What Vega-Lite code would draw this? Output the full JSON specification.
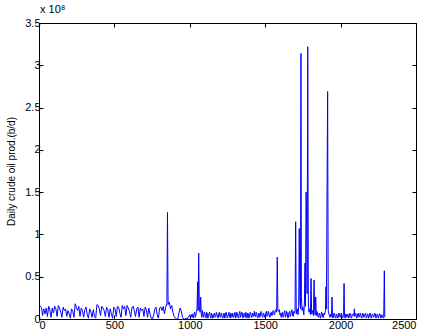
{
  "$schema": "https://vega.github.io/schema/vega-lite/v6.json",
  "autosize": "none",
  "width": 377,
  "height": 296,
  "padding": {"left": 39, "top": 23, "right": 15, "bottom": 17},
  "background": "white",
  "title": {"text": "x 10⁸", "anchor": "start", "frame": "group", "fontSize": 11, "fontWeight": "normal", "font": "Liberation Sans", "color": "#000", "offset": 2, "dx": 1},
  "config": {
    "view": {"stroke": "#000", "strokeWidth": 1},
    "axis": {"domainColor": "#000", "tickColor": "#000", "labelColor": "#000", "titleColor": "#000", "labelFont": "Liberation Sans", "titleFont": "Liberation Sans", "labelFontSize": 11, "titleFontSize": 10, "titleFontWeight": "normal", "grid": false, "tickSize": -4, "domainWidth": 1}
  },
  "data": {"values": [
    {"day":0,"prod":0.15},{"day":4,"prod":0.16},{"day":8,"prod":0.15},{"day":16,"prod":0.14},{"day":20,"prod":0.09},{"day":24,"prod":0.04},{"day":28,"prod":0.1},{"day":32,"prod":0.12},{"day":40,"prod":0.06},{"day":44,"prod":0.1},{"day":48,"prod":0.13},{"day":56,"prod":0.03},{"day":64,"prod":0.15},{"day":72,"prod":0.11},{"day":76,"prod":0.06},{"day":80,"prod":0.02},{"day":88,"prod":0.13},{"day":96,"prod":0.07},{"day":104,"prod":0.15},{"day":112,"prod":0.12},{"day":120,"prod":0.03},{"day":128,"prod":0.16},{"day":136,"prod":0.13},{"day":144,"prod":0.08},{"day":152,"prod":0.02},{"day":160,"prod":0.14},{"day":168,"prod":0.1},{"day":176,"prod":0.12},{"day":184,"prod":0.03},{"day":192,"prod":0.1},{"day":200,"prod":0.06},{"day":208,"prod":0.01},{"day":216,"prod":0.12},{"day":224,"prod":0.09},{"day":232,"prod":0.02},{"day":240,"prod":0.18},{"day":248,"prod":0.14},{"day":256,"prod":0.1},{"day":264,"prod":0.15},{"day":272,"prod":0.03},{"day":280,"prod":0.13},{"day":288,"prod":0.1},{"day":296,"prod":0.02},{"day":304,"prod":0.11},{"day":312,"prod":0.14},{"day":320,"prod":0.05},{"day":328,"prod":0.01},{"day":336,"prod":0.12},{"day":344,"prod":0.08},{"day":352,"prod":0.02},{"day":360,"prod":0.11},{"day":368,"prod":0.03},{"day":376,"prod":0.01},{"day":384,"prod":0.17},{"day":392,"prod":0.16},{"day":400,"prod":0.12},{"day":408,"prod":0.04},{"day":416,"prod":0.15},{"day":424,"prod":0.13},{"day":432,"prod":0.1},{"day":440,"prod":0.03},{"day":448,"prod":0.14},{"day":456,"prod":0.11},{"day":464,"prod":0.02},{"day":472,"prod":0.12},{"day":480,"prod":0.06},{"day":488,"prod":0.01},{"day":496,"prod":0.14},{"day":504,"prod":0.12},{"day":512,"prod":0.03},{"day":520,"prod":0.15},{"day":528,"prod":0.14},{"day":536,"prod":0.07},{"day":544,"prod":0.02},{"day":552,"prod":0.16},{"day":560,"prod":0.12},{"day":568,"prod":0.15},{"day":576,"prod":0.04},{"day":584,"prod":0.16},{"day":592,"prod":0.13},{"day":600,"prod":0.09},{"day":608,"prod":0.02},{"day":616,"prod":0.13},{"day":624,"prod":0.15},{"day":632,"prod":0.1},{"day":640,"prod":0.03},{"day":648,"prod":0.12},{"day":656,"prod":0.14},{"day":664,"prod":0.02},{"day":672,"prod":0.13},{"day":680,"prod":0.1},{"day":688,"prod":0.12},{"day":696,"prod":0.03},{"day":704,"prod":0.14},{"day":712,"prod":0.11},{"day":720,"prod":0.02},{"day":728,"prod":0.13},{"day":736,"prod":0.06},{"day":744,"prod":0.01},{"day":752,"prod":0.0},{"day":760,"prod":0.04},{"day":768,"prod":0.12},{"day":776,"prod":0.14},{"day":784,"prod":0.05},{"day":792,"prod":0.01},{"day":800,"prod":0.13},{"day":808,"prod":0.14},{"day":816,"prod":0.1},{"day":824,"prod":0.15},{"day":832,"prod":0.06},{"day":840,"prod":0.14},{"day":848,"prod":0.18},{"day":852,"prod":1.26},{"day":856,"prod":0.17},{"day":864,"prod":0.2},{"day":872,"prod":0.12},{"day":880,"prod":0.16},{"day":888,"prod":0.08},{"day":896,"prod":0.03},{"day":904,"prod":0.01},{"day":912,"prod":0.0},{"day":920,"prod":0.0},{"day":928,"prod":0.07},{"day":936,"prod":0.13},{"day":944,"prod":0.09},{"day":952,"prod":0.02},{"day":960,"prod":0.0},{"day":968,"prod":0.0},{"day":976,"prod":0.01},{"day":984,"prod":0.0},{"day":992,"prod":0.03},{"day":1000,"prod":0.05},{"day":1004,"prod":0.01},{"day":1008,"prod":0.02},{"day":1012,"prod":0.05},{"day":1016,"prod":0.06},{"day":1020,"prod":0.02},{"day":1024,"prod":0.01},{"day":1028,"prod":0.06},{"day":1032,"prod":0.08},{"day":1036,"prod":0.02},{"day":1040,"prod":0.04},{"day":1044,"prod":0.09},{"day":1048,"prod":0.12},{"day":1052,"prod":0.44},{"day":1055,"prod":0.1},{"day":1059,"prod":0.78},{"day":1063,"prod":0.15},{"day":1068,"prod":0.08},{"day":1072,"prod":0.26},{"day":1076,"prod":0.06},{"day":1080,"prod":0.02},{"day":1084,"prod":0.1},{"day":1088,"prod":0.04},{"day":1092,"prod":0.02},{"day":1096,"prod":0.08},{"day":1100,"prod":0.07},{"day":1104,"prod":0.03},{"day":1108,"prod":0.01},{"day":1112,"prod":0.08},{"day":1116,"prod":0.06},{"day":1120,"prod":0.01},{"day":1124,"prod":0.03},{"day":1128,"prod":0.07},{"day":1132,"prod":0.08},{"day":1136,"prod":0.03},{"day":1140,"prod":0.01},{"day":1144,"prod":0.07},{"day":1148,"prod":0.05},{"day":1152,"prod":0.01},{"day":1156,"prod":0.02},{"day":1160,"prod":0.06},{"day":1164,"prod":0.07},{"day":1168,"prod":0.02},{"day":1172,"prod":0.03},{"day":1176,"prod":0.08},{"day":1180,"prod":0.06},{"day":1184,"prod":0.02},{"day":1188,"prod":0.01},{"day":1192,"prod":0.06},{"day":1196,"prod":0.08},{"day":1200,"prod":0.03},{"day":1204,"prod":0.02},{"day":1208,"prod":0.07},{"day":1212,"prod":0.05},{"day":1216,"prod":0.02},{"day":1220,"prod":0.01},{"day":1224,"prod":0.06},{"day":1228,"prod":0.07},{"day":1232,"prod":0.01},{"day":1236,"prod":0.03},{"day":1240,"prod":0.08},{"day":1244,"prod":0.06},{"day":1248,"prod":0.01},{"day":1252,"prod":0.02},{"day":1256,"prod":0.06},{"day":1260,"prod":0.08},{"day":1264,"prod":0.03},{"day":1268,"prod":0.01},{"day":1272,"prod":0.07},{"day":1276,"prod":0.05},{"day":1280,"prod":0.02},{"day":1284,"prod":0.07},{"day":1288,"prod":0.04},{"day":1292,"prod":0.02},{"day":1296,"prod":0.06},{"day":1300,"prod":0.08},{"day":1304,"prod":0.01},{"day":1308,"prod":0.03},{"day":1312,"prod":0.08},{"day":1316,"prod":0.06},{"day":1320,"prod":0.02},{"day":1324,"prod":0.01},{"day":1328,"prod":0.07},{"day":1332,"prod":0.09},{"day":1336,"prod":0.02},{"day":1340,"prod":0.04},{"day":1344,"prod":0.08},{"day":1348,"prod":0.07},{"day":1352,"prod":0.01},{"day":1356,"prod":0.02},{"day":1360,"prod":0.07},{"day":1364,"prod":0.05},{"day":1368,"prod":0.02},{"day":1372,"prod":0.08},{"day":1376,"prod":0.03},{"day":1380,"prod":0.01},{"day":1384,"prod":0.07},{"day":1388,"prod":0.06},{"day":1392,"prod":0.01},{"day":1396,"prod":0.03},{"day":1400,"prod":0.08},{"day":1404,"prod":0.07},{"day":1408,"prod":0.02},{"day":1412,"prod":0.02},{"day":1416,"prod":0.07},{"day":1420,"prod":0.05},{"day":1424,"prod":0.03},{"day":1428,"prod":0.09},{"day":1432,"prod":0.04},{"day":1436,"prod":0.03},{"day":1440,"prod":0.08},{"day":1444,"prod":0.06},{"day":1448,"prod":0.02},{"day":1452,"prod":0.01},{"day":1456,"prod":0.06},{"day":1460,"prod":0.07},{"day":1464,"prod":0.02},{"day":1468,"prod":0.04},{"day":1472,"prod":0.09},{"day":1476,"prod":0.08},{"day":1480,"prod":0.03},{"day":1484,"prod":0.02},{"day":1488,"prod":0.07},{"day":1492,"prod":0.06},{"day":1496,"prod":0.02},{"day":1500,"prod":0.03},{"day":1504,"prod":0.07},{"day":1508,"prod":0.09},{"day":1512,"prod":0.03},{"day":1516,"prod":0.04},{"day":1520,"prod":0.09},{"day":1524,"prod":0.07},{"day":1528,"prod":0.03},{"day":1532,"prod":0.02},{"day":1536,"prod":0.07},{"day":1540,"prod":0.08},{"day":1544,"prod":0.04},{"day":1548,"prod":0.05},{"day":1552,"prod":0.1},{"day":1556,"prod":0.09},{"day":1560,"prod":0.05},{"day":1564,"prod":0.07},{"day":1568,"prod":0.11},{"day":1572,"prod":0.1},{"day":1576,"prod":0.08},{"day":1580,"prod":0.73},{"day":1584,"prod":0.1},{"day":1590,"prod":0.09},{"day":1594,"prod":0.11},{"day":1598,"prod":0.05},{"day":1602,"prod":0.07},{"day":1606,"prod":0.02},{"day":1610,"prod":0.06},{"day":1614,"prod":0.08},{"day":1618,"prod":0.02},{"day":1622,"prod":0.03},{"day":1626,"prod":0.08},{"day":1630,"prod":0.1},{"day":1634,"prod":0.02},{"day":1638,"prod":0.04},{"day":1642,"prod":0.09},{"day":1646,"prod":0.07},{"day":1650,"prod":0.01},{"day":1654,"prod":0.02},{"day":1658,"prod":0.08},{"day":1662,"prod":0.09},{"day":1666,"prod":0.03},{"day":1670,"prod":0.05},{"day":1674,"prod":0.1},{"day":1678,"prod":0.11},{"day":1682,"prod":0.04},{"day":1686,"prod":0.03},{"day":1690,"prod":0.09},{"day":1694,"prod":0.07},{"day":1698,"prod":0.1},{"day":1702,"prod":1.15},{"day":1706,"prod":0.06},{"day":1712,"prod":0.12},{"day":1718,"prod":0.05},{"day":1722,"prod":0.15},{"day":1726,"prod":1.07},{"day":1730,"prod":0.2},{"day":1734,"prod":0.12},{"day":1737,"prod":3.14},{"day":1740,"prod":0.25},{"day":1745,"prod":0.1},{"day":1750,"prod":0.14},{"day":1756,"prod":0.05},{"day":1760,"prod":0.2},{"day":1764,"prod":0.66},{"day":1767,"prod":0.15},{"day":1771,"prod":1.5},{"day":1775,"prod":1.19},{"day":1778,"prod":0.3},{"day":1782,"prod":3.22},{"day":1786,"prod":0.2},{"day":1790,"prod":0.08},{"day":1796,"prod":0.12},{"day":1800,"prod":0.05},{"day":1804,"prod":0.48},{"day":1808,"prod":0.06},{"day":1814,"prod":0.1},{"day":1820,"prod":0.04},{"day":1824,"prod":0.46},{"day":1828,"prod":0.12},{"day":1831,"prod":0.05},{"day":1835,"prod":0.26},{"day":1839,"prod":0.04},{"day":1842,"prod":0.09},{"day":1846,"prod":0.08},{"day":1850,"prod":0.03},{"day":1854,"prod":0.02},{"day":1858,"prod":0.07},{"day":1862,"prod":0.06},{"day":1866,"prod":0.01},{"day":1870,"prod":0.03},{"day":1874,"prod":0.08},{"day":1878,"prod":0.07},{"day":1882,"prod":0.02},{"day":1886,"prod":0.02},{"day":1890,"prod":0.07},{"day":1894,"prod":0.05},{"day":1900,"prod":0.1},{"day":1903,"prod":0.38},{"day":1906,"prod":0.12},{"day":1910,"prod":1.49},{"day":1914,"prod":2.69},{"day":1918,"prod":0.1},{"day":1924,"prod":0.05},{"day":1930,"prod":0.02},{"day":1936,"prod":0.06},{"day":1940,"prod":0.03},{"day":1943,"prod":0.26},{"day":1946,"prod":0.05},{"day":1949,"prod":0.01},{"day":1952,"prod":0.02},{"day":1956,"prod":0.07},{"day":1960,"prod":0.06},{"day":1964,"prod":0.02},{"day":1968,"prod":0.01},{"day":1972,"prod":0.06},{"day":1976,"prod":0.05},{"day":1980,"prod":0.01},{"day":1984,"prod":0.02},{"day":1988,"prod":0.07},{"day":1992,"prod":0.06},{"day":1996,"prod":0.02},{"day":2000,"prod":0.03},{"day":2004,"prod":0.07},{"day":2008,"prod":0.05},{"day":2012,"prod":0.01},{"day":2016,"prod":0.02},{"day":2020,"prod":0.08},{"day":2023,"prod":0.42},{"day":2026,"prod":0.04},{"day":2030,"prod":0.01},{"day":2034,"prod":0.06},{"day":2038,"prod":0.05},{"day":2042,"prod":0.02},{"day":2046,"prod":0.06},{"day":2050,"prod":0.05},{"day":2054,"prod":0.01},{"day":2058,"prod":0.03},{"day":2062,"prod":0.07},{"day":2066,"prod":0.06},{"day":2070,"prod":0.01},{"day":2074,"prod":0.02},{"day":2078,"prod":0.06},{"day":2082,"prod":0.05},{"day":2088,"prod":0.04},{"day":2091,"prod":0.12},{"day":2094,"prod":0.03},{"day":2098,"prod":0.07},{"day":2102,"prod":0.06},{"day":2106,"prod":0.01},{"day":2110,"prod":0.02},{"day":2114,"prod":0.06},{"day":2118,"prod":0.07},{"day":2122,"prod":0.02},{"day":2126,"prod":0.03},{"day":2130,"prod":0.07},{"day":2134,"prod":0.05},{"day":2138,"prod":0.01},{"day":2142,"prod":0.02},{"day":2146,"prod":0.07},{"day":2150,"prod":0.06},{"day":2154,"prod":0.02},{"day":2158,"prod":0.03},{"day":2162,"prod":0.06},{"day":2166,"prod":0.07},{"day":2170,"prod":0.01},{"day":2174,"prod":0.02},{"day":2178,"prod":0.06},{"day":2182,"prod":0.05},{"day":2186,"prod":0.01},{"day":2190,"prod":0.03},{"day":2194,"prod":0.07},{"day":2198,"prod":0.06},{"day":2202,"prod":0.01},{"day":2206,"prod":0.02},{"day":2210,"prod":0.06},{"day":2214,"prod":0.05},{"day":2218,"prod":0.02},{"day":2222,"prod":0.03},{"day":2226,"prod":0.07},{"day":2230,"prod":0.06},{"day":2234,"prod":0.01},{"day":2238,"prod":0.02},{"day":2242,"prod":0.06},{"day":2246,"prod":0.05},{"day":2250,"prod":0.01},{"day":2254,"prod":0.03},{"day":2258,"prod":0.06},{"day":2262,"prod":0.06},{"day":2266,"prod":0.01},{"day":2270,"prod":0.02},{"day":2274,"prod":0.05},{"day":2278,"prod":0.04},{"day":2282,"prod":0.01},{"day":2286,"prod":0.03},{"day":2290,"prod":0.57},{"day":2293,"prod":0.02}
  ]},
  "layer": [
    {
      "mark": {"type": "line", "color": "#0000ff", "strokeWidth": 1, "clip": true},
      "encoding": {
        "x": {"field": "day", "type": "quantitative", "scale": {"domain": [0, 2500], "nice": false, "zero": false}, "axis": {"orient": "bottom", "values": [0, 500, 1000, 1500, 2000, 2500], "format": "d", "title": null, "labelPadding": 4}},
        "y": {"field": "prod", "type": "quantitative", "scale": {"domain": [0, 3.5], "nice": false}, "axis": {"orient": "left", "values": [0, 0.5, 1, 1.5, 2, 2.5, 3, 3.5], "format": ".2~f", "title": "Daily crude oil prod.(b/d)", "labelPadding": 3, "titlePadding": 8}}
      }
    },
    {
      "mark": {"type": "line", "opacity": 0},
      "encoding": {
        "x": {"field": "day", "type": "quantitative", "axis": {"orient": "top", "values": [0, 500, 1000, 1500, 2000, 2500], "labels": false, "title": null}},
        "y": {"field": "prod", "type": "quantitative", "axis": {"orient": "right", "values": [0, 0.5, 1, 1.5, 2, 2.5, 3, 3.5], "labels": false, "title": null}}
      }
    }
  ],
  "resolve": {"axis": {"x": "independent", "y": "independent"}}
}
